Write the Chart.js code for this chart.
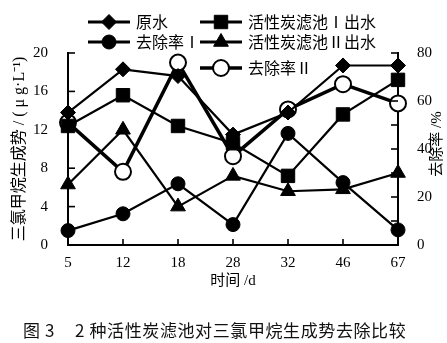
<!DOCTYPE html>
<html><head><meta charset="utf-8">
<script src="https://cdn.jsdelivr.net/npm/chart.js@4"></script>
<style>
html,body{margin:0;padding:0;background:#fff;}
#wrap{position:relative;width:447px;height:343px;overflow:hidden;}
#c{position:absolute;left:0;top:0;}
#cap{position:absolute;left:23px;top:319px;font-size:17px;line-height:22px;letter-spacing:0.6px;font-family:"Noto Sans CJK SC";white-space:nowrap;color:#111;}
</style></head><body>
<div id="wrap"><canvas id="c" width="447" height="343"></canvas>
<div id="cap">图 3<span style="display:inline-block;width:20px"></span>2 种活性炭滤池对三氯甲烷生成势去除比较</div></div>
<script>
// ---- data ----
const days = ['5','12','18','28','32','46','67'];
const rawWater   = [13.8, 18.3, 17.6, 11.5, 13.8, 18.7, 18.7];   // 原水
const filter1Out = [12.4, 15.6, 12.4, 10.6, 7.2, 13.6, 17.2];    // 活性炭滤池Ⅰ出水
const removal1   = [6, 13, 25.5, 8.5, 46.5, 26, 6.3];            // 去除率Ⅰ (%)
const filter2Out = [6.3, 12.0, 4.0, 7.2, 5.6, 5.8, 7.5];         // 活性炭滤池Ⅱ出水
const removal2   = [51, 30.5, 76, 37, 56.5, 67, 59];             // 去除率Ⅱ (%)
const leftTicks  = [0, 4, 8, 12, 16, 20];
const rightTicks = [0, 20, 40, 60, 80];

const serif = '"Liberation Serif","Noto Sans CJK SC"';
const cjk = '"Noto Sans CJK SC"';

function ds(label, data, axis, style, r, opts) {
  return Object.assign({
    label, data, yAxisID: axis, pointStyle: style, pointRadius: r, pointHoverRadius: r,
    borderColor: '#000', backgroundColor: '#000', pointBackgroundColor: '#000',
    pointBorderColor: '#000', pointBorderWidth: 1, borderWidth: 2.2, tension: 0, clip: false
  }, opts || {});
}

const legendLayout = [
  {i:0, x:88,  y:22},
  {i:1, x:200, y:22},
  {i:2, x:88,  y:42},
  {i:3, x:200, y:42},
  {i:4, x:200, y:68}
];

const extras = {
  id: 'extras',
  afterDraw(chart) {
    const ctx = chart.ctx, a = chart.chartArea;
    const yl = chart.scales.y, yr = chart.scales.y2, xs = chart.scales.x;
    ctx.save();
    ctx.strokeStyle = '#000'; ctx.lineWidth = 1.6; ctx.lineCap = 'butt';
    const seg = (x1,y1,x2,y2)=>{ctx.beginPath();ctx.moveTo(x1,y1);ctx.lineTo(x2,y2);ctx.stroke();};
    yl.ticks.forEach(t=>{const p=yl.getPixelForValue(t.value); seg(a.left,p,a.left+7,p);});
    yr.ticks.forEach(t=>{const p=yr.getPixelForValue(t.value); seg(a.right,p,a.right-7,p);});
    xs.ticks.forEach((t,i)=>{const p=xs.getPixelForTick(i); seg(p,a.bottom,p,a.bottom-6);});
    // legend
    legendLayout.forEach(L=>{
      const d = chart.data.datasets[L.i];
      ctx.strokeStyle='#000'; ctx.lineWidth = L.i===4 ? 3.5 : 3;
      seg(L.x, L.y, L.x+42, L.y);
      ctx.fillStyle = d.pointBackgroundColor; ctx.strokeStyle='#000';
      ctx.lineWidth = d.pointBorderWidth;
      Chart.helpers.drawPoint(ctx, {pointStyle:d.pointStyle, radius:d.pointRadius, rotation:0, borderWidth:d.pointBorderWidth}, L.x+21, L.y);
      ctx.fillStyle='#000'; ctx.font = '16px '+cjk; ctx.textBaseline='middle'; ctx.textAlign='left';
      ctx.fillText(d.label, L.x+48, L.y);
    });
    // right axis title, reading bottom to top
    ctx.save();
    ctx.translate(437, (a.top+a.bottom)/2 - 5);
    ctx.rotate(-Math.PI/2);
    ctx.font = '15px '+serif; ctx.textAlign='center'; ctx.textBaseline='middle'; ctx.fillStyle='#000';
    ctx.fillText('去除率 /%', 0, 0);
    ctx.restore();
    ctx.restore();
  }
};

new Chart(document.getElementById('c'), {
  type: 'line',
  data: {
    labels: days,
    datasets: [
      ds('原水', rawWater, 'y', 'rectRot', 7.5),
      ds('活性炭滤池Ⅰ出水', filter1Out, 'y', 'rect', 9.5),
      ds('去除率Ⅰ', removal1, 'y2', 'circle', 7),
      ds('活性炭滤池Ⅱ出水', filter2Out, 'y', 'triangle', 8.5),
      ds('去除率Ⅱ', removal2, 'y2', 'circle', 8, {pointBackgroundColor:'#fff', backgroundColor:'#fff', pointBorderWidth:2, borderWidth:3.5})
    ]
  },
  options: {
    responsive: false, animation: false, events: [],
    layout: {padding: {top: 53, bottom: 50, left: 0, right: 0}},
    plugins: {legend: {display: false}, tooltip: {enabled: false}},
    scales: {
      x: {
        offset: false,
        grid: {display: false},
        border: {display: true, color: '#000', width: 2},
        ticks: {color: '#000', font: {family: serif, size: 15}, padding: 1, maxRotation: 0, autoSkip: false},
        title: {display: true, text: '时间 /d', color: '#000', font: {family: serif, size: 15}, padding: {top: 0, bottom: 3}},
        afterFit(s) { s.height = 48; }
      },
      y: {
        position: 'left', min: 0, max: 20,
        grid: {display: false},
        border: {display: true, color: '#000', width: 2},
        ticks: {stepSize: 2, color: '#000', font: {family: serif, size: 15}, padding: 12,
          callback: v => leftTicks.includes(v) ? String(v) : ''},
        title: {display: true, text: '三氯甲烷生成势 / ( μ g·L⁻¹)', color: '#000', font: {family: serif, size: 16}, padding: {top: 10, bottom: 0}},
        afterFit(s) { s.width = 68; }
      },
      y2: {
        position: 'right', min: 0, max: 80,
        grid: {display: false},
        border: {display: true, color: '#000', width: 2},
        ticks: {stepSize: 10, color: '#000', font: {family: serif, size: 15}, padding: 11,
          callback: v => rightTicks.includes(v) ? String(v) : ''},
        afterFit(s) { s.width = 49; }
      }
    }
  },
  plugins: [extras]
});
</script>
</body></html>
